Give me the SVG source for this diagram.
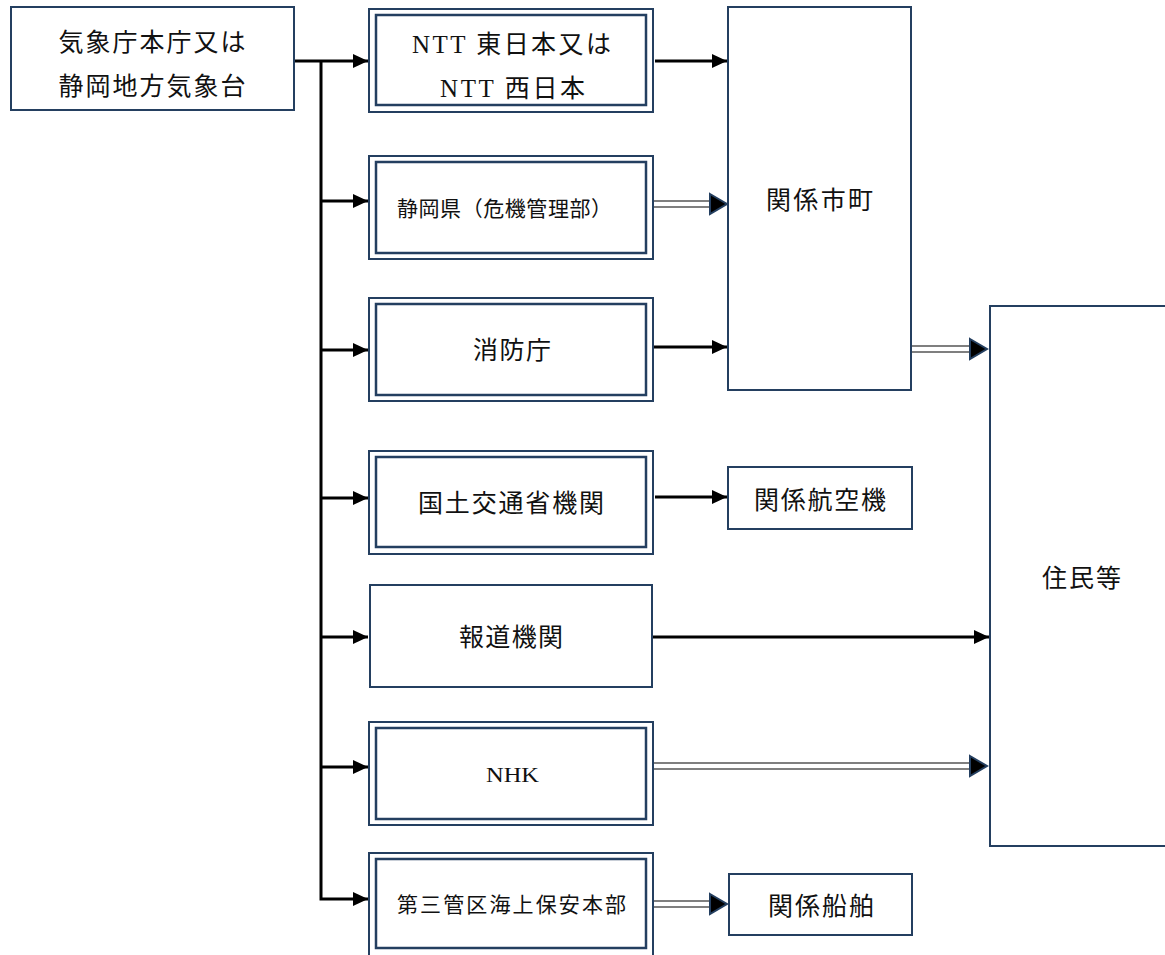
<svg xmlns="http://www.w3.org/2000/svg" width="1165" height="955" viewBox="0 0 1165 955">
<defs>
<style>
.box{fill:#fff;stroke:#243F60;stroke-width:2}
.inner{fill:none;stroke:#243F60;stroke-width:2.5}
.t{font-family:"Liberation Serif","Noto Sans CJK JP",serif;font-size:25px;fill:#111;text-anchor:middle;dominant-baseline:central}
.s{font-size:21px}
.n{font-size:20px}
.solid{stroke:#000;stroke-width:3;fill:none}
.dbl{stroke:#555;stroke-width:1.6;fill:none}
.head{fill:#000;stroke:#243F60;stroke-width:2;stroke-linejoin:miter}
</style>
<marker id="ah" markerUnits="userSpaceOnUse" markerWidth="16" markerHeight="16" refX="15" refY="8" orient="auto" viewBox="0 0 16 16">
<path d="M0,1 L15,8 L0,15 z" fill="#000"/>
</marker>
</defs>
<rect width="1165" height="955" fill="#fff"/>

<g id="connectors">
<line class="solid" x1="294" y1="61" x2="368" y2="61" marker-end="url(#ah)"/>
<polyline class="solid" points="321,61 321,899 368,899" marker-end="url(#ah)"/>
<line class="solid" x1="321" y1="201" x2="368" y2="201" marker-end="url(#ah)"/>
<line class="solid" x1="321" y1="350" x2="368" y2="350" marker-end="url(#ah)"/>
<line class="solid" x1="321" y1="498" x2="368" y2="498" marker-end="url(#ah)"/>
<line class="solid" x1="321" y1="637" x2="368" y2="637" marker-end="url(#ah)"/>
<line class="solid" x1="321" y1="767" x2="368" y2="767" marker-end="url(#ah)"/>
<line class="solid" x1="655" y1="61" x2="727" y2="61" marker-end="url(#ah)"/>
<line class="solid" x1="653" y1="347" x2="727" y2="347" marker-end="url(#ah)"/>
<line class="solid" x1="655" y1="497" x2="727" y2="497" marker-end="url(#ah)"/>
<line class="solid" x1="653" y1="637" x2="989" y2="637" marker-end="url(#ah)"/>
<g id="dbl-shizuoka">
<line class="dbl" x1="653" y1="201" x2="712" y2="201"/>
<line class="dbl" x1="653" y1="207" x2="712" y2="207"/>
<polygon class="head" points="710,194 727,204 710,214"/>
</g>
<g id="dbl-shicho">
<line class="dbl" x1="911" y1="346" x2="972" y2="346"/>
<line class="dbl" x1="911" y1="352" x2="972" y2="352"/>
<polygon class="head" points="970,339 987,349 970,359"/>
</g>
<g id="dbl-nhk">
<line class="dbl" x1="653" y1="763" x2="972" y2="763"/>
<line class="dbl" x1="653" y1="769" x2="972" y2="769"/>
<polygon class="head" points="970,756 987,766 970,776"/>
</g>
<g id="dbl-kaiho">
<line class="dbl" x1="653" y1="901" x2="712" y2="901"/>
<line class="dbl" x1="653" y1="907" x2="712" y2="907"/>
<polygon class="head" points="710,894 727,904 710,914"/>
</g>
</g>

<g id="jma">
<rect class="box" x="11" y="7" width="283" height="103"/>
<text class="t" x="152" y="42" textLength="187" lengthAdjust="spacing">気象庁本庁又は</text>
<text class="t" x="152" y="86" textLength="187" lengthAdjust="spacing">静岡地方気象台</text>
</g>

<g id="ntt">
<rect class="box" x="369" y="9" width="284" height="103"/>
<rect class="inner" x="376" y="15" width="270" height="90"/>
<text class="t" x="511.5" y="44" textLength="199" lengthAdjust="spacing">NTT 東日本又は</text>
<text class="t" x="512.5" y="88" textLength="145" lengthAdjust="spacing">NTT 西日本</text>
</g>

<g id="shizuoka">
<rect class="box" x="369" y="156" width="284" height="103"/>
<rect class="inner" x="376" y="162" width="270" height="91"/>
<text class="t s" x="504.5" y="209" textLength="215" lengthAdjust="spacing">静岡県（危機管理部）</text>
</g>

<g id="fdma">
<rect class="box" x="369" y="298" width="284" height="103"/>
<rect class="inner" x="376" y="304" width="270" height="91"/>
<text class="t" x="512" y="350" textLength="78" lengthAdjust="spacing">消防庁</text>
</g>

<g id="mlit">
<rect class="box" x="369" y="451" width="284" height="103"/>
<rect class="inner" x="376" y="457" width="270" height="90"/>
<text class="t" x="511" y="503" textLength="186" lengthAdjust="spacing">国土交通省機関</text>
</g>

<g id="media">
<rect class="box" x="370" y="585" width="282" height="102"/>
<text class="t" x="511" y="637" textLength="104" lengthAdjust="spacing">報道機関</text>
</g>

<g id="nhk">
<rect class="box" x="369" y="722" width="284" height="103"/>
<rect class="inner" x="376" y="728" width="270" height="91"/>
<text class="t n" x="512.5" y="775" textLength="53" lengthAdjust="spacingAndGlyphs">NHK</text>
</g>

<g id="coastguard">
<rect class="box" x="369" y="853" width="284" height="110"/>
<rect class="inner" x="376" y="859" width="270" height="89"/>
<text class="t s" x="511.5" y="905" textLength="229" lengthAdjust="spacing">第三管区海上保安本部</text>
</g>

<g id="shicho">
<rect class="box" x="728" y="7" width="183" height="383"/>
<text class="t" x="819.5" y="200" textLength="107" lengthAdjust="spacing">関係市町</text>
</g>

<g id="aircraft">
<rect class="box" x="728" y="467" width="184" height="62"/>
<text class="t" x="820" y="500" textLength="132" lengthAdjust="spacing">関係航空機</text>
</g>

<g id="ships">
<rect class="box" x="729" y="874" width="183" height="61"/>
<text class="t" x="821" y="906" textLength="106" lengthAdjust="spacing">関係船舶</text>
</g>

<g id="residents">
<rect class="box" x="990" y="306" width="185" height="540"/>
<text class="t" x="1081.5" y="578" textLength="79" lengthAdjust="spacing">住民等</text>
</g>
</svg>
